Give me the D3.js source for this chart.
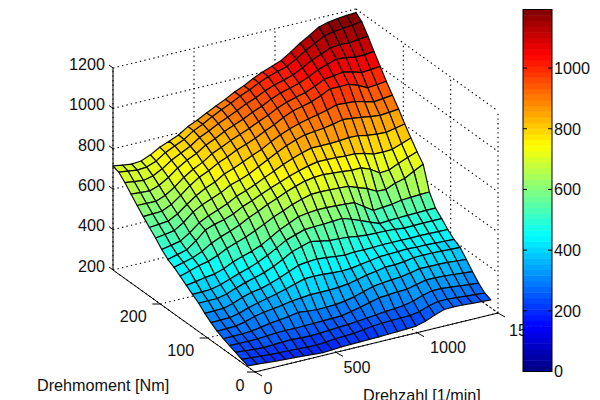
<!DOCTYPE html>
<html><head><meta charset="utf-8">
<style>html,body{margin:0;padding:0;background:#fff}svg{display:block}text{font-family:"Liberation Sans",Arial,sans-serif;font-size:16.2px;fill:#111}</style>
<script src="https://cdn.jsdelivr.net/npm/d3@7/dist/d3.min.js"></script></head><body>
<svg id="c" width="600" height="400"></svg>
<script>
const rpm=[0,58,115,173,231,288,346,404,462,519,577,635,692,750,808,865,923,981,1038,1096,1154,1212,1269,1327,1385,1442,1500];
const torque=[15,28,41,54,67,80,93,106,119,132,145,158,171,184,197,210,223,236,249,262,275,288,300];
const zValues=[
[205,202,199,195,192,190,187,183,180,183,187,188,189,190,191,193,195,197,200,213,232,248,250,248,245,242,240],
[215,212,209,205,203,202,200,197,196,200,205,207,209,216,222,226,228,229,230,238,255,266,266,263,259,255,252],
[228,225,221,218,220,223,224,221,220,221,225,228,231,235,240,245,250,253,258,268,285,297,297,293,288,283,279],
[240,239,238,239,243,246,247,246,248,248,250,251,252,262,272,284,296,300,304,305,317,328,328,326,322,318,314],
[252,252,253,256,263,272,277,283,292,287,283,284,286,292,302,316,330,337,341,344,353,363,362,362,360,356,353],
[268,269,270,280,295,305,311,318,327,331,336,336,336,338,344,354,365,373,382,382,387,395,396,396,394,392,390],
[288,289,290,300,316,329,340,351,364,378,392,394,392,388,386,388,396,403,411,413,415,417,414,414,412,410,408],
[312,313,314,327,346,359,367,381,398,417,437,443,446,442,436,432,436,435,436,438,438,438,437,438,437,436,435],
[340,341,341,352,370,386,399,413,432,456,483,497,511,502,493,491,487,480,475,474,473,470,465,466,467,467,467],
[362,363,365,376,393,410,424,442,465,490,517,533,548,551,552,555,558,543,525,506,488,491,493,495,496,497,497],
[385,392,401,407,422,444,460,475,494,520,548,569,590,597,601,601,599,596,592,562,531,535,539,548,551,553,555],
[408,423,438,448,466,489,507,523,543,565,589,608,628,643,656,657,656,654,651,633,617,593,590,610,622,647,670],
[430,443,455,475,505,525,542,561,586,606,629,648,669,685,700,707,710,706,702,697,698,680,650,654,675,693,710],
[447,460,472,506,548,565,577,594,619,637,658,677,695,713,728,741,751,751,749,746,745,737,722,720,723,740,757],
[475,484,494,524,562,585,603,623,648,665,684,707,728,750,768,784,797,797,797,799,804,802,793,788,785,794,804],
[510,516,524,553,593,618,637,656,682,696,714,739,763,787,809,827,841,846,851,860,871,866,860,852,847,851,856],
[540,544,549,573,609,641,667,686,715,731,752,773,792,818,841,859,874,886,896,907,922,920,916,905,892,897,903],
[572,574,576,598,632,669,700,720,747,766,789,807,825,849,869,894,915,926,938,957,980,979,980,963,940,944,950],
[605,604,603,621,651,688,717,740,771,791,814,833,852,874,894,918,936,950,961,981,1004,1011,1018,1008,993,997,1002],
[640,636,633,649,677,712,740,762,792,813,837,857,876,899,917,941,960,973,986,1006,1030,1045,1061,1057,1048,1048,1054],
[675,668,663,674,698,729,753,776,808,829,854,875,896,919,937,960,978,991,1005,1029,1056,1074,1094,1099,1096,1102,1108],
[705,698,692,696,714,745,767,788,819,841,867,890,911,935,954,978,997,1012,1025,1052,1082,1106,1132,1141,1146,1151,1158],
[715,708,702,706,725,752,770,790,820,840,865,888,910,935,955,980,1000,1018,1035,1065,1098,1125,1155,1168,1175,1180,1182]
];
const zTicks=[200,400,600,800,1000,1200];
const torqueTicks=[0,100,200];
const rpmTicks=[0,500,1000,1500];
const colorTicks=[0,200,400,600,800,1000];
const colorMax=1193;

const svg=d3.select("#c");
const rX=d3.scaleLinear().domain([0,1500]).range([0,243]);
const rY=d3.scaleLinear().domain([0,1500]).range([0,-59]);
const tX=d3.scaleLinear().domain([0,300]).range([0,-142]);
const tY=d3.scaleLinear().domain([0,300]).range([0,-102]);
const zY=d3.scaleLinear().domain([200,1200]).range([0,-202]);
const ox=255,oy=372;
const P=(r,t,z)=>[ox+rX(r)+tX(t),oy+rY(r)+tY(t)+zY(z)];
const line=d3.line();

function jet(v){const c=x=>Math.round(255*Math.max(0,Math.min(1,x)));
  return d3.rgb(c(1.5-Math.abs(4*v-3)),c(1.5-Math.abs(4*v-2)),c(1.5-Math.abs(4*v-1))).formatHex();}
const jet64=d3.range(64).map(k=>jet((k+.5)/64));
const color=d3.scaleQuantize().domain([0,colorMax]).range(jet64);

const gGrid=svg.append("g").attr("fill","none").attr("stroke","#000").attr("stroke-width",1.1).attr("stroke-dasharray","1.4 3.2");
const seg=(a,b)=>gGrid.append("path").attr("d",line([a,b]));
const rMax=1500,tMax=300;
zTicks.forEach(z=>{ seg(P(0,tMax,z),P(rMax,tMax,z)); seg(P(rMax,tMax,z),P(rMax,0,z)); });
rpmTicks.forEach(r=>{ seg(P(r,tMax,200),P(r,tMax,1200)); seg(P(r,0,200),P(r,tMax,200)); });
torqueTicks.forEach(t=>{ seg(P(rMax,t,200),P(rMax,t,1200)); seg(P(0,t,200),P(rMax,t,200)); });

const gS=svg.append("g").attr("stroke","#0c0c0c").attr("stroke-width",1.2).attr("stroke-linejoin","round");
for(let j=torque.length-2;j>=0;j--){
  for(let i=rpm.length-2;i>=0;i--){
    const q=[P(rpm[i],torque[j],zValues[j][i]),P(rpm[i+1],torque[j],zValues[j][i+1]),
             P(rpm[i+1],torque[j+1],zValues[j+1][i+1]),P(rpm[i],torque[j+1],zValues[j+1][i])];
    gS.append("path").attr("d",line(q)+"Z").attr("fill",color(zValues[j+1][i+1]));
  }
}

const gA=svg.append("g").attr("stroke","#000").attr("stroke-width",1).attr("fill","none");
const ax=(a,b)=>gA.append("path").attr("d",line([a,b]));
ax(P(0,tMax,200),P(0,tMax,1200));
ax(P(0,tMax,200),P(0,0,200));
ax(P(0,0,200),P(rMax,0,200));
const lab=(x,y,s,anchor)=>svg.append("text").attr("x",x).attr("y",y).attr("text-anchor",anchor||"middle").attr("dy","0.36em").text(s);
zTicks.forEach(z=>{const p=P(0,tMax,z);ax([p[0]-4,p[1]-3],p);lab(p[0]-8,p[1]-4,z,"end");});
torqueTicks.forEach(t=>{const p=P(0,t,200);ax([p[0]-8,p[1]],p);
  lab(p[0]+(t==0?-15:-27),p[1]+(t==0?13:12),t);});
rpmTicks.forEach(r=>{const p=P(r,0,200);ax(p,[p[0]+7,p[1]+4]);
  lab(p[0]+(r==0?13:r==1500?29:r==1000?31:21),p[1]+(r==0?16:r==1500?17:15),r);});
lab(37,385,"Drehmoment [Nm]","start");
lab(363,395,"Drehzahl [1/min]","start");

const cbY=d3.scaleLinear().domain([0,colorMax]).range([371.5,9.5]);
const cb=svg.append("g");
jet64.forEach((c,k)=>{const a=colorMax*k/64,b=colorMax*(k+1)/64;
  cb.append("rect").attr("x",523).attr("width",29).attr("y",cbY(b)).attr("height",cbY(a)-cbY(b)+.5).attr("fill",c);});
cb.append("rect").attr("x",523).attr("y",9.5).attr("width",29).attr("height",362).attr("fill","none").attr("stroke","#000");
colorTicks.forEach(v=>{const y=cbY(v);
  cb.append("path").attr("d",line([[523,y],[527,y]])).attr("stroke","#000");
  cb.append("path").attr("d",line([[548,y],[552,y]])).attr("stroke","#000");
  cb.append("text").attr("x",554).attr("y",y).attr("dy","0.36em").text(v);});
</script></body></html>
